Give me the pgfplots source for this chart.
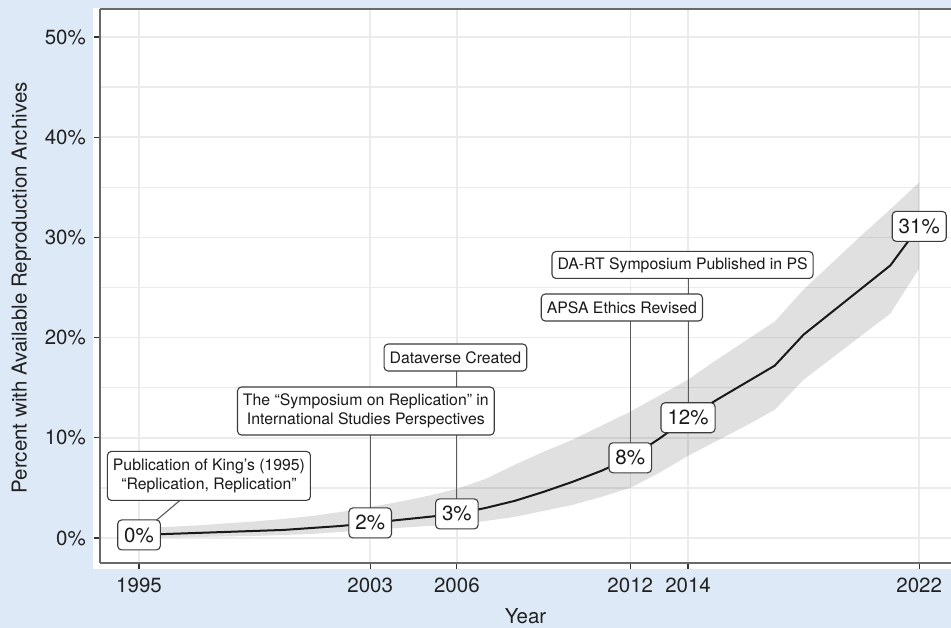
\documentclass[border=0pt]{standalone}
\usepackage{pgfplots}
\pgfplotsset{compat=1.18}
\usepackage{pgfplotstable}
\usepackage{fontspec}
\setmainfont{TeX Gyre Heros}
\definecolor{bgblue}{RGB}{221,233,246}
\definecolor{gridgray}{RGB}{235,235,235}
\definecolor{axgray}{RGB}{105,105,105}
\definecolor{boxgray}{RGB}{60,60,60}
\definecolor{linegray}{RGB}{90,90,90}

% estimated share (mean) per year
\pgfplotstableread{
year mean
1995 0.3
1996 0.4
1997 0.5
1998 0.6
1999 0.7
2000 0.8
2001 1.0
2002 1.2
2003 1.5
2004 1.8
2005 2.1
2006 2.4
2007 3.0
2008 3.7
2009 4.6
2010 5.6
2011 6.7
2012 8.0
2013 9.9
2014 12.0
2015 13.8
2016 15.5
2017 17.2
2018 20.3
2019 22.6
2020 24.9
2021 27.2
2022 31.1
}\archdata

% confidence band: upper bound forward, lower bound backward
\pgfplotstableread{
year bound
1995 1.0
1996 1.1
1997 1.25
1998 1.45
1999 1.65
2000 1.9
2001 2.2
2002 2.6
2003 3.1
2004 3.6
2005 4.2
2006 4.9
2007 5.9
2008 7.3
2009 8.6
2010 9.8
2011 11.2
2012 12.6
2013 14.2
2014 15.8
2015 17.8
2016 19.7
2017 21.6
2018 24.8
2019 27.5
2020 30.2
2021 32.8
2022 35.5
2022 26.9
2021 22.4
2020 20.2
2019 18.0
2018 15.8
2017 12.8
2016 11.2
2015 9.7
2014 8.2
2013 6.5
2012 5.0
2011 4.1
2010 3.3
2009 2.7
2008 2.1
2007 1.7
2006 1.3
2005 1.2
2004 1.0
2003 0.8
2002 0.6
2001 0.4
2000 0.3
1999 0.2
1998 0.15
1997 0.1
1996 0.05
1995 0.0
}\banddata

\tikzset{
  ann/.style={draw=boxgray, line width=1.1bp, fill=white, rounded corners=4bp,
    align=center, font=\fontsize{15.8bp}{19bp}\selectfont, inner xsep=5.5bp, inner ysep=2bp, text=black!90},
  pct/.style={draw=boxgray, line width=1.1bp, fill=white, rounded corners=4bp,
    font=\fontsize{20.5bp}{24bp}\selectfont, inner xsep=6.5bp, inner ysep=0bp, minimum height=30bp, text=black!90},
  conn/.style={draw=linegray, line width=1.1bp}
}

\begin{document}
\begin{tikzpicture}[x=1bp,y=1bp]
\fill[bgblue] (0,0) rectangle (951,628);
\fill[white] (93,59) rectangle (951,620);
\begin{axis}[
  at={(100bp,65bp)}, anchor=south west,
  scale only axis, width=851bp, height=554bp,
  xmin=1993.65, xmax=2023.1, ymin=-2.5, ymax=52.8,
  axis x line*=bottom, axis y line*=left,
  axis line style={color=axgray, line width=1.2bp},
  xtick={1995,2003,2006,2012,2014,2022},
  xticklabels={1995,2003,2006,2012,2014,2022},
  ytick={0,10,20,30,40,50},
  yticklabels={0\%,10\%,20\%,30\%,40\%,50\%},
  minor ytick={5,15,25,35,45},
  grid=both,
  major grid style={color=gridgray, line width=1.5bp},
  minor grid style={color=gridgray, line width=1.3bp},
  tick align=outside,
  major tick length=6bp, minor tick length=0pt,
  tick style={color=black!80, line width=1.2bp},
  ticklabel style={font=\fontsize{20.5bp}{24bp}\selectfont, text=black!87},
  xticklabel style={anchor=north, inner sep=0pt, yshift=-9bp},
  yticklabel style={anchor=east, inner sep=0pt, xshift=-8bp},
  clip=false,
]
\addplot[fill=black, fill opacity=0.12, draw=none] table[x=year,y=bound]{\banddata} \closedcycle;
\addplot[color=black!90, line width=2bp] table[x=year,y=mean]{\archdata};

\draw[axgray, line width=1.2bp] (rel axis cs:0,1) -- (rel axis cs:1,1);

\draw[conn] (axis cs:1997.42,6.19) -- (axis cs:1995,0.3);
\draw[conn] (axis cs:2003,12.67) -- (axis cs:2003,1.5);
\draw[conn] (axis cs:2006,18.01) -- (axis cs:2006,2.4);
\draw[conn] (axis cs:2012,23.0) -- (axis cs:2012,8.0);
\draw[conn] (axis cs:2014,27.25) -- (axis cs:2014,12.0);

\node[ann, minimum height=49bp] at (axis cs:1997.42,6.19) {Publication of King’s (1995)\\“Replication, Replication”};
\node[ann, minimum height=48bp] at (axis cs:2002.85,12.67) {The “Symposium on Replication” in\\International Studies Perspectives};
\node[ann, minimum height=27bp] at (axis cs:2005.95,18.01) {Dataverse Created};
\node[ann, minimum height=27bp] at (axis cs:2011.71,23.0) {APSA Ethics Revised};
\node[ann, minimum height=27bp] at (axis cs:2013.81,27.25) {DA-RT Symposium Published in PS};

\node[pct] at (axis cs:1995,0.3) {0\%};
\node[pct] at (axis cs:2003,1.5) {2\%};
\node[pct] at (axis cs:2006,2.4) {3\%};
\node[pct] at (axis cs:2012,8.0) {8\%};
\node[pct] at (axis cs:2014,12.0) {12\%};
\node[pct] at (axis cs:2022,31.1) {31\%};
\end{axis}
\node[rotate=90, anchor=base, font=\fontsize{20.5bp}{24bp}\selectfont, text=black!87] at (26.7,340.2) {Percent with Available Reproduction Archives};
\node[anchor=base, font=\fontsize{20.5bp}{24bp}\selectfont, text=black!87] at (525.5,4.7) {Year};
\pgfresetboundingbox
\path[use as bounding box] (0,0) rectangle (951,628);
\end{tikzpicture}
\end{document}
